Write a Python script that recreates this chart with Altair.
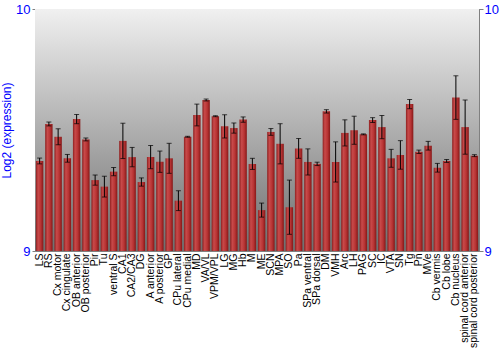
import altair as alt
import pandas as pd

regions = ["LS", "RS", "Cx motor", "Cx cingulate", "OB anterior", "OB posterior", "Pir", "Tu",
           "ventral S", "CA1", "CA2/CA3", "DG", "A anterior", "A posterior", "GP", "CPu lateral",
           "CPu medial", "MD", "VA/VL", "VPM/VPL", "LG", "MG", "Hb", "M", "ME", "SCN", "MPA", "SO",
           "Pa", "SPa ventral", "SPa dorsal", "DM", "VMH", "Arc", "LH", "PAG", "SC", "IC", "VTA",
           "SN", "Tg", "Pn", "MVe", "Cb vermis", "Cb lobe", "Cb nucleus", "spinal cord anterior",
           "spinal cord posterior"]

values = [9.372, 9.525, 9.472, 9.383, 9.545, 9.461, 9.293, 9.266,
          9.328, 9.455, 9.388, 9.285, 9.388, 9.369, 9.383, 9.208,
          9.472, 9.562, 9.624, 9.557, 9.515, 9.508, 9.543, 9.360, 9.169, 9.492, 9.443, 9.181,
          9.424, 9.368, 9.360, 9.577, 9.368, 9.488, 9.499, 9.482, 9.541, 9.512, 9.383,
          9.397, 9.607, 9.410, 9.435, 9.344, 9.372, 9.634, 9.512,
          9.394]

errors = [0.012, 0.008, 0.033, 0.016, 0.019, 0.006, 0.021, 0.043,
          0.017, 0.073, 0.040, 0.017, 0.048, 0.044, 0.062, 0.041,
          0.002, 0.045, 0.004, 0.002, 0.048, 0.021, 0.011, 0.023, 0.029, 0.014, 0.083, 0.112,
          0.041, 0.054, 0.007, 0.007, 0.083, 0.054, 0.058, 0.002, 0.010, 0.048, 0.037,
          0.059, 0.019, 0.007, 0.018, 0.018, 0.006, 0.090, 0.112,
          0.004]

df = pd.DataFrame({"region": regions, "value": values, "err": errors})
df["lo"] = df["value"] - df["err"]
df["hi"] = df["value"] + df["err"]

W, H = 444, 242
FONT = "Liberation Sans"
BLUE = "#0000ff"

xenc = alt.X("region:N", sort=None,
             scale=alt.Scale(paddingInner=0.2, paddingOuter=0.1),
             axis=alt.Axis(title=None, labelAngle=270, ticks=False, domain=False,
                           labelFontSize=10.5, labelPadding=2, labelColor="black",
                           labelFont=FONT, labelLimit=200))

yscale = alt.Scale(domain=[9, 10], nice=False, zero=False)

bg = alt.Chart(pd.DataFrame({"a": [0]})).mark_rect(
    color=alt.Gradient(gradient="linear", x1=0, y1=0, x2=0, y2=1,
                       stops=[alt.GradientStop(offset=0, color="#f0f0f0"),
                              alt.GradientStop(offset=1, color="#6e6e6e")])
).encode(x=alt.value(0), x2=alt.value(W), y=alt.value(0), y2=alt.value(H))

bars = alt.Chart(df).mark_bar(
    color=alt.Gradient(gradient="linear", x1=0, y1=0, x2=1, y2=0,
                       stops=[alt.GradientStop(offset=0, color="#8e2020"),
                              alt.GradientStop(offset=0.3, color="#c84a4a"),
                              alt.GradientStop(offset=0.65, color="#b83434"),
                              alt.GradientStop(offset=1, color="#861818")])
).encode(
    x=xenc,
    y=alt.Y("value:Q", scale=yscale,
            axis=alt.Axis(title="Log2 (expression)", values=[9, 10], format="d", grid=False,
                          labelColor=BLUE, labelFontSize=13, labelFont=FONT,
                          titleColor=BLUE, titleFontSize=12, titleFont=FONT,
                          titleFontWeight="normal", titlePadding=2,
                          tickSize=3, labelPadding=2, domainColor="#808080",
                          tickColor="#808080")),
    y2=alt.datum(9),
)

rules = alt.Chart(df).mark_rule(color="black", strokeWidth=1).encode(
    x=xenc,
    y=alt.Y("lo:Q", scale=yscale,
            axis=alt.Axis(title=None, orient="right", values=[9, 10], format="d", grid=False,
                          labelColor=BLUE, labelFontSize=13, labelFont=FONT,
                          tickSize=4, labelPadding=1, domainColor="#808080",
                          tickColor="#808080")),
    y2="hi:Q",
)

caps_lo = alt.Chart(df).mark_tick(color="black", thickness=1, size=5).encode(
    x=xenc, y=alt.Y("lo:Q", scale=yscale, axis=None))
caps_hi = alt.Chart(df).mark_tick(color="black", thickness=1, size=5).encode(
    x=xenc, y=alt.Y("hi:Q", scale=yscale, axis=None))

chart = alt.layer(bg, bars, rules, caps_lo, caps_hi).resolve_axis(
    y="independent"
).resolve_scale(y="shared").properties(
    width=W, height=H,
    autosize=alt.AutoSizeParams(type="none"),
    padding={"left": 35, "top": 9, "right": 21, "bottom": 99},
    background="white",
).configure_view(stroke="#808080", strokeWidth=1)

chart.save("out.html", embed_options={"renderer": "svg", "actions": False})
